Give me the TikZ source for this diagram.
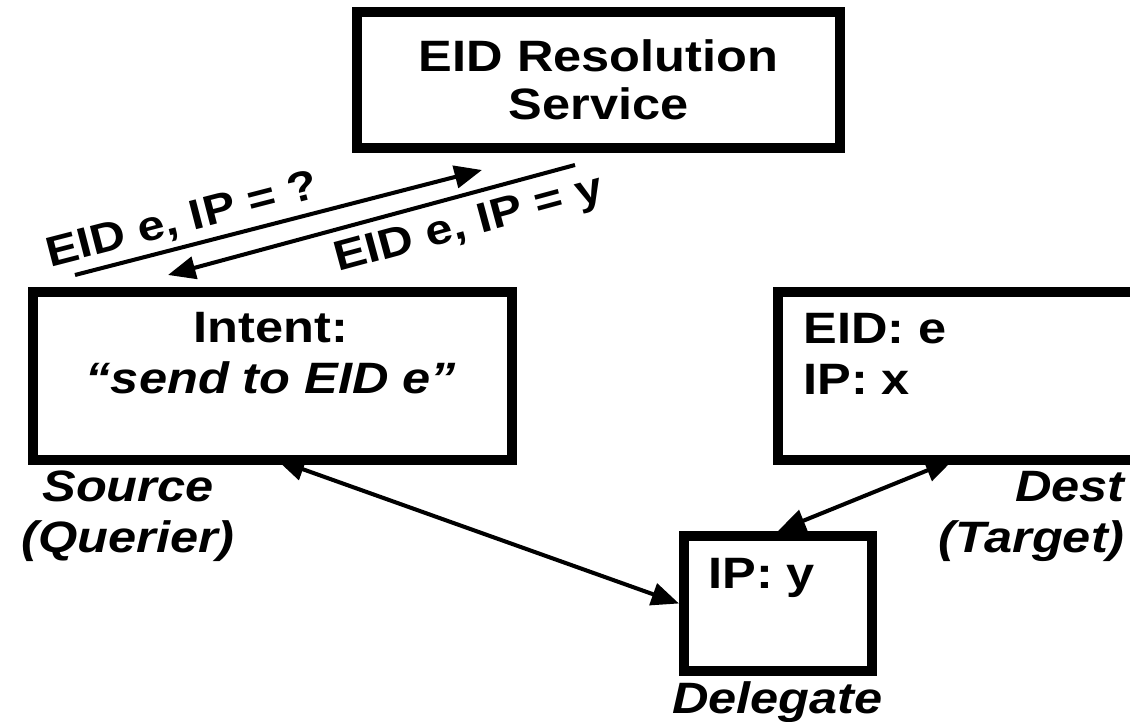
\documentclass[tikz,border=0pt]{standalone}
\usepackage{fontspec}
\setmainfont{Liberation Sans}[FakeStretch=1.15]
\usetikzlibrary{arrows.meta}
\tikzset{
  every picture/.style={font=\fontsize{25}{29}\selectfont\bfseries},
  box/.style={draw=black,line width=0.2cm,inner sep=0pt},
  role/.style={font=\fontsize{25}{29}\selectfont\bfseries\itshape,inner sep=0pt},
  msg/.style={draw=black,line width=2.3pt},
  msg label/.style={font=\fontsize{24}{28}\selectfont\bfseries,sloped,inner sep=3pt},
}
\begin{document}
\begin{tikzpicture}[x=1cm,y=1cm,>={Triangle[length=5.5mm,width=4.5mm]}]
  \useasboundingbox (0,0) rectangle (22.6,-14.44);
  \clip (0,0) rectangle (22.6,-14.44);
  % boxes
  \node[box,minimum width=9.66cm,minimum height=2.72cm,align=center] (ers) at (11.97,-1.6)
    {EID Resolution\\[-2pt]Service};
  \node[box,minimum width=9.58cm,minimum height=3.36cm] (src) at (5.45,-7.52) {};
  \node[box,minimum width=9.44cm,minimum height=3.36cm] (dst) at (20.28,-7.52) {};
  \node[box,minimum width=3.76cm,minimum height=2.7cm] (dlg) at (15.56,-12.07) {};
  % box texts
  \node[align=center,inner sep=0pt] (intent) at (5.42,-7.06) {Intent:\\\itshape ``send to EID e''};
  \node[align=left,anchor=west,inner sep=0pt] (dstid) at (16.06,-7.08) {EID: e\\IP: x};
  \node[anchor=base west,inner sep=0pt] (dlgip) at (14.16,-11.76) {IP: y};
  % roles
  \node[role,align=center] (srcname) at (2.56,-10.32) {Source\\(Querier)};
  \node[role,align=right,anchor=east] (dstname) at (22.5,-10.32) {Dest\\(Target)};
  \node[role,anchor=base] (dlgname) at (15.55,-14.26) {Delegate};
  % resolution exchange
  \coordinate (q1) at (1.5,-5.5);
  \coordinate (q2) at (9.64,-3.4);
  \coordinate (r1) at (11.5,-3.3);
  \coordinate (r2) at (3.36,-5.5);
  \draw[msg,->] (q1) -- node[msg label,pos=0.28,above] {EID e, IP = ?} (q2);
  \draw[msg,<-] (r2) -- node[msg label,pos=0.72,below,inner sep=6pt] {EID e, IP = y} (r1);
  % data path
  \coordinate (srcport) at (5.54,-9.2);
  \coordinate (dstport) at (19.06,-9.2);
  \draw[msg,<->] (srcport) -- (dlg.west);
  \draw[msg,<->] (dstport) -- (dlg.north);
\end{tikzpicture}
\end{document}
